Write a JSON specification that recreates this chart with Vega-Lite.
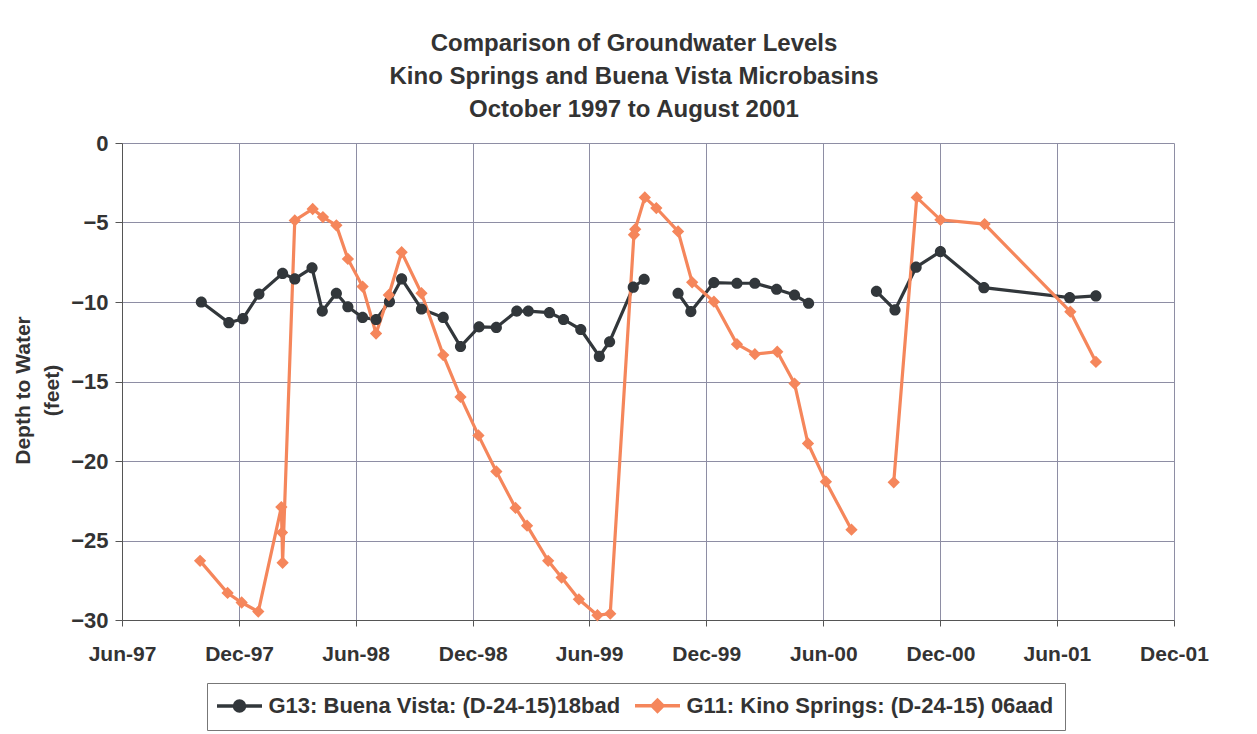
{
  "$schema": "https://vega.github.io/schema/vega-lite/v6.json",
  "width": 1052,
  "height": 477,
  "autosize": "none",
  "padding": {"left": 122, "top": 143, "right": 83, "bottom": 114},
  "background": "white",
  "config": {"view": {"stroke": null}, "font": "Liberation Sans"},
  "title": {
    "text": ["Comparison of Groundwater Levels", "Kino Springs and Buena Vista Microbasins", "October 1997 to August 2001"],
    "font": "Liberation Sans",
    "fontSize": 24,
    "fontWeight": "bold",
    "lineHeight": 33,
    "color": "#333333",
    "anchor": "middle",
    "frame": "group",
    "dx": -14,
    "offset": 10
  },
  "data": {
    "values": [
      {"series": "G13: Buena Vista: (D-24-15)18bad", "date": "1997-10-03T00:00", "depth": -10.0},
      {"series": "G13: Buena Vista: (D-24-15)18bad", "date": "1997-11-15T00:00", "depth": -11.3},
      {"series": "G13: Buena Vista: (D-24-15)18bad", "date": "1997-12-07T00:00", "depth": -11.05},
      {"series": "G13: Buena Vista: (D-24-15)18bad", "date": "1998-01-01T00:00", "depth": -9.5},
      {"series": "G13: Buena Vista: (D-24-15)18bad", "date": "1998-02-07T00:00", "depth": -8.2},
      {"series": "G13: Buena Vista: (D-24-15)18bad", "date": "1998-02-26T00:00", "depth": -8.55},
      {"series": "G13: Buena Vista: (D-24-15)18bad", "date": "1998-03-25T00:00", "depth": -7.85},
      {"series": "G13: Buena Vista: (D-24-15)18bad", "date": "1998-04-10T00:00", "depth": -10.57},
      {"series": "G13: Buena Vista: (D-24-15)18bad", "date": "1998-05-02T00:00", "depth": -9.45},
      {"series": "G13: Buena Vista: (D-24-15)18bad", "date": "1998-05-20T00:00", "depth": -10.3},
      {"series": "G13: Buena Vista: (D-24-15)18bad", "date": "1998-06-12T00:00", "depth": -10.97},
      {"series": "G13: Buena Vista: (D-24-15)18bad", "date": "1998-07-03T00:00", "depth": -11.1},
      {"series": "G13: Buena Vista: (D-24-15)18bad", "date": "1998-07-24T00:00", "depth": -9.98},
      {"series": "G13: Buena Vista: (D-24-15)18bad", "date": "1998-08-12T00:00", "depth": -8.55},
      {"series": "G13: Buena Vista: (D-24-15)18bad", "date": "1998-09-12T00:00", "depth": -10.44},
      {"series": "G13: Buena Vista: (D-24-15)18bad", "date": "1998-10-16T00:00", "depth": -10.97},
      {"series": "G13: Buena Vista: (D-24-15)18bad", "date": "1998-11-12T00:00", "depth": -12.8},
      {"series": "G13: Buena Vista: (D-24-15)18bad", "date": "1998-12-11T00:00", "depth": -11.56},
      {"series": "G13: Buena Vista: (D-24-15)18bad", "date": "1999-01-07T00:00", "depth": -11.6},
      {"series": "G13: Buena Vista: (D-24-15)18bad", "date": "1999-02-08T00:00", "depth": -10.57},
      {"series": "G13: Buena Vista: (D-24-15)18bad", "date": "1999-02-26T00:00", "depth": -10.57},
      {"series": "G13: Buena Vista: (D-24-15)18bad", "date": "1999-03-31T00:00", "depth": -10.67},
      {"series": "G13: Buena Vista: (D-24-15)18bad", "date": "1999-04-22T00:00", "depth": -11.1},
      {"series": "G13: Buena Vista: (D-24-15)18bad", "date": "1999-05-19T00:00", "depth": -11.73},
      {"series": "G13: Buena Vista: (D-24-15)18bad", "date": "1999-06-17T00:00", "depth": -13.42},
      {"series": "G13: Buena Vista: (D-24-15)18bad", "date": "1999-07-03T00:00", "depth": -12.5},
      {"series": "G13: Buena Vista: (D-24-15)18bad", "date": "1999-08-09T00:00", "depth": -9.07},
      {"series": "G13: Buena Vista: (D-24-15)18bad", "date": "1999-08-26T00:00", "depth": -8.57},
      {"series": "G13: Buena Vista: (D-24-15)18bad", "date": "1999-09-20T00:00", "depth": null},
      {"series": "G13: Buena Vista: (D-24-15)18bad", "date": "1999-10-18T00:00", "depth": -9.45},
      {"series": "G13: Buena Vista: (D-24-15)18bad", "date": "1999-11-07T00:00", "depth": -10.6},
      {"series": "G13: Buena Vista: (D-24-15)18bad", "date": "1999-12-13T00:00", "depth": -8.78},
      {"series": "G13: Buena Vista: (D-24-15)18bad", "date": "2000-01-18T00:00", "depth": -8.82},
      {"series": "G13: Buena Vista: (D-24-15)18bad", "date": "2000-02-15T00:00", "depth": -8.82},
      {"series": "G13: Buena Vista: (D-24-15)18bad", "date": "2000-03-20T00:00", "depth": -9.2},
      {"series": "G13: Buena Vista: (D-24-15)18bad", "date": "2000-04-17T00:00", "depth": -9.56},
      {"series": "G13: Buena Vista: (D-24-15)18bad", "date": "2000-05-09T00:00", "depth": -10.08},
      {"series": "G13: Buena Vista: (D-24-15)18bad", "date": "2000-07-01T00:00", "depth": null},
      {"series": "G13: Buena Vista: (D-24-15)18bad", "date": "2000-08-23T00:00", "depth": -9.33},
      {"series": "G13: Buena Vista: (D-24-15)18bad", "date": "2000-09-21T00:00", "depth": -10.5},
      {"series": "G13: Buena Vista: (D-24-15)18bad", "date": "2000-10-24T00:00", "depth": -7.81},
      {"series": "G13: Buena Vista: (D-24-15)18bad", "date": "2000-12-01T00:00", "depth": -6.83},
      {"series": "G13: Buena Vista: (D-24-15)18bad", "date": "2001-02-07T00:00", "depth": -9.1},
      {"series": "G13: Buena Vista: (D-24-15)18bad", "date": "2001-06-21T00:00", "depth": -9.73},
      {"series": "G13: Buena Vista: (D-24-15)18bad", "date": "2001-08-01T00:00", "depth": -9.62},
      {"series": "G11: Kino Springs: (D-24-15) 06aad", "date": "1997-10-01T00:00", "depth": -26.28},
      {"series": "G11: Kino Springs: (D-24-15) 06aad", "date": "1997-11-13T00:00", "depth": -28.3},
      {"series": "G11: Kino Springs: (D-24-15) 06aad", "date": "1997-12-05T00:00", "depth": -28.9},
      {"series": "G11: Kino Springs: (D-24-15) 06aad", "date": "1997-12-31T00:00", "depth": -29.47},
      {"series": "G11: Kino Springs: (D-24-15) 06aad", "date": "1998-02-05T00:00", "depth": -22.9},
      {"series": "G11: Kino Springs: (D-24-15) 06aad", "date": "1998-02-06T00:00", "depth": -24.5},
      {"series": "G11: Kino Springs: (D-24-15) 06aad", "date": "1998-02-07T00:00", "depth": -26.4},
      {"series": "G11: Kino Springs: (D-24-15) 06aad", "date": "1998-02-26T00:00", "depth": -4.87},
      {"series": "G11: Kino Springs: (D-24-15) 06aad", "date": "1998-03-26T00:00", "depth": -4.15},
      {"series": "G11: Kino Springs: (D-24-15) 06aad", "date": "1998-04-11T00:00", "depth": -4.66},
      {"series": "G11: Kino Springs: (D-24-15) 06aad", "date": "1998-05-02T00:00", "depth": -5.18},
      {"series": "G11: Kino Springs: (D-24-15) 06aad", "date": "1998-05-20T00:00", "depth": -7.29},
      {"series": "G11: Kino Springs: (D-24-15) 06aad", "date": "1998-06-12T00:00", "depth": -9.03},
      {"series": "G11: Kino Springs: (D-24-15) 06aad", "date": "1998-07-03T00:00", "depth": -11.98},
      {"series": "G11: Kino Springs: (D-24-15) 06aad", "date": "1998-07-23T00:00", "depth": -9.56},
      {"series": "G11: Kino Springs: (D-24-15) 06aad", "date": "1998-08-12T00:00", "depth": -6.87},
      {"series": "G11: Kino Springs: (D-24-15) 06aad", "date": "1998-09-12T00:00", "depth": -9.45},
      {"series": "G11: Kino Springs: (D-24-15) 06aad", "date": "1998-10-16T00:00", "depth": -13.34},
      {"series": "G11: Kino Springs: (D-24-15) 06aad", "date": "1998-11-12T00:00", "depth": -15.97},
      {"series": "G11: Kino Springs: (D-24-15) 06aad", "date": "1998-12-10T00:00", "depth": -18.39},
      {"series": "G11: Kino Springs: (D-24-15) 06aad", "date": "1999-01-07T00:00", "depth": -20.66},
      {"series": "G11: Kino Springs: (D-24-15) 06aad", "date": "1999-02-06T00:00", "depth": -22.95},
      {"series": "G11: Kino Springs: (D-24-15) 06aad", "date": "1999-02-24T00:00", "depth": -24.07},
      {"series": "G11: Kino Springs: (D-24-15) 06aad", "date": "1999-03-29T00:00", "depth": -26.28},
      {"series": "G11: Kino Springs: (D-24-15) 06aad", "date": "1999-04-19T00:00", "depth": -27.33},
      {"series": "G11: Kino Springs: (D-24-15) 06aad", "date": "1999-05-16T00:00", "depth": -28.7},
      {"series": "G11: Kino Springs: (D-24-15) 06aad", "date": "1999-06-14T00:00", "depth": -29.7},
      {"series": "G11: Kino Springs: (D-24-15) 06aad", "date": "1999-07-04T00:00", "depth": -29.6},
      {"series": "G11: Kino Springs: (D-24-15) 06aad", "date": "1999-08-10T00:00", "depth": -5.77},
      {"series": "G11: Kino Springs: (D-24-15) 06aad", "date": "1999-08-12T00:00", "depth": -5.42},
      {"series": "G11: Kino Springs: (D-24-15) 06aad", "date": "1999-08-27T00:00", "depth": -3.42},
      {"series": "G11: Kino Springs: (D-24-15) 06aad", "date": "1999-09-14T00:00", "depth": -4.09},
      {"series": "G11: Kino Springs: (D-24-15) 06aad", "date": "1999-10-18T00:00", "depth": -5.56},
      {"series": "G11: Kino Springs: (D-24-15) 06aad", "date": "1999-11-09T00:00", "depth": -8.76},
      {"series": "G11: Kino Springs: (D-24-15) 06aad", "date": "1999-12-13T00:00", "depth": -9.98},
      {"series": "G11: Kino Springs: (D-24-15) 06aad", "date": "2000-01-18T00:00", "depth": -12.65},
      {"series": "G11: Kino Springs: (D-24-15) 06aad", "date": "2000-02-15T00:00", "depth": -13.28},
      {"series": "G11: Kino Springs: (D-24-15) 06aad", "date": "2000-03-21T00:00", "depth": -13.13},
      {"series": "G11: Kino Springs: (D-24-15) 06aad", "date": "2000-04-17T00:00", "depth": -15.13},
      {"series": "G11: Kino Springs: (D-24-15) 06aad", "date": "2000-05-08T00:00", "depth": -18.9},
      {"series": "G11: Kino Springs: (D-24-15) 06aad", "date": "2000-06-05T00:00", "depth": -21.3},
      {"series": "G11: Kino Springs: (D-24-15) 06aad", "date": "2000-07-15T00:00", "depth": -24.32},
      {"series": "G11: Kino Springs: (D-24-15) 06aad", "date": "2000-08-20T00:00", "depth": null},
      {"series": "G11: Kino Springs: (D-24-15) 06aad", "date": "2000-09-19T00:00", "depth": -21.34},
      {"series": "G11: Kino Springs: (D-24-15) 06aad", "date": "2000-10-25T00:00", "depth": -3.42},
      {"series": "G11: Kino Springs: (D-24-15) 06aad", "date": "2000-12-01T00:00", "depth": -4.83},
      {"series": "G11: Kino Springs: (D-24-15) 06aad", "date": "2001-02-08T00:00", "depth": -5.1},
      {"series": "G11: Kino Springs: (D-24-15) 06aad", "date": "2001-06-22T00:00", "depth": -10.61},
      {"series": "G11: Kino Springs: (D-24-15) 06aad", "date": "2001-08-01T00:00", "depth": -13.77}
    ]
  },
  "encoding": {
    "x": {
      "field": "date",
      "type": "temporal",
      "title": null,
      "scale": {"domain": [{"year": 1997, "month": 6, "date": 1}, {"year": 2001, "month": 12, "date": 1}]},
      "axis": {
        "values": [
          {"year": 1997, "month": 6, "date": 1}, {"year": 1997, "month": 12, "date": 1},
          {"year": 1998, "month": 6, "date": 1}, {"year": 1998, "month": 12, "date": 1},
          {"year": 1999, "month": 6, "date": 1}, {"year": 1999, "month": 12, "date": 1},
          {"year": 2000, "month": 6, "date": 1}, {"year": 2000, "month": 12, "date": 1},
          {"year": 2001, "month": 6, "date": 1}, {"year": 2001, "month": 12, "date": 1}
        ],
        "format": "%b-%y",
        "labelAngle": 0,
        "labelFlush": false,
        "labelOverlap": false,
        "labelFont": "Liberation Sans",
        "labelFontSize": 21,
        "labelFontWeight": "bold",
        "labelColor": "#333333",
        "labelPadding": 17,
        "tickSize": 6,
        "tickColor": "#555555",
        "domainColor": "#555555",
        "domainWidth": 1,
        "grid": true,
        "gridColor": "#8e8ea4",
        "gridWidth": 1
      }
    },
    "y": {
      "field": "depth",
      "type": "quantitative",
      "scale": {"domain": [-30, 0], "nice": false},
      "axis": {
        "values": [-30, -25, -20, -15, -10, -5, 0],
        "title": ["Depth to Water", "(feet)"],
        "titleFont": "Liberation Sans",
        "titleFontSize": 21,
        "titleFontWeight": "bold",
        "titleColor": "#333333",
        "titleLineHeight": 29,
        "titleX": -99,
        "titleY": 247,
        "titleBaseline": "middle",
        "titleAlign": "center",
        "titleAngle": -90,
        "labelFont": "Liberation Sans",
        "labelFontSize": 22,
        "labelFontWeight": "bold",
        "labelColor": "#333333",
        "labelPadding": 7,
        "tickSize": 7,
        "tickColor": "#555555",
        "domainColor": "#555555",
        "grid": true,
        "gridColor": "#8e8ea4",
        "gridWidth": 1
      }
    },
    "color": {
      "field": "series",
      "type": "nominal",
      "scale": {"domain": ["G13: Buena Vista: (D-24-15)18bad", "G11: Kino Springs: (D-24-15) 06aad"], "range": ["#32373b", "#f5865b"]},
      "legend": {
        "title": null,
        "orient": "none",
        "legendX": 85,
        "legendY": 540,
        "direction": "horizontal",
        "strokeColor": "#777777",
        "fillColor": "white",
        "padding": 11.5,
        "columnPadding": 7,
        "symbolSize": 100,
        "symbolOffset": 10,
        "symbolOpacity": 1,
        "symbolStrokeWidth": 3.5,
        "labelOffset": 18,
        "labelFont": "Liberation Sans",
        "labelFontSize": 22,
        "labelFontWeight": "bold",
        "labelColor": "#333333",
        "labelLimit": 0
      }
    }
  },
  "layer": [
    {
      "mark": {"type": "line", "strokeWidth": 3.2, "invalid": "break-paths-filter-domains"}
    },
    {
      "mark": {"type": "point", "filled": true, "opacity": 1, "size": 125},
      "encoding": {
        "stroke": {
          "field": "series",
          "type": "nominal",
          "scale": {"domain": ["G13: Buena Vista: (D-24-15)18bad", "G11: Kino Springs: (D-24-15) 06aad"], "range": ["#32373b", "#f5865b"]},
          "legend": {"title": null, "orient": "none", "legendX": 85, "legendY": 540, "direction": "horizontal"}
        },
        "strokeWidth": {"value": 0},
        "shape": {
          "field": "series",
          "type": "nominal",
          "scale": {
            "domain": ["G13: Buena Vista: (D-24-15)18bad", "G11: Kino Springs: (D-24-15) 06aad"],
            "range": [
              "M-4.5,0H4.5M-1,0A1,1 0 1,1 1,0A1,1 0 1,1 -1,0Z",
              "M-4.5,0H4.5M-1.1,0L0,-1.1L1.1,0L0,1.1Z"
            ]
          },
          "legend": {"title": null, "orient": "none", "legendX": 85, "legendY": 540, "direction": "horizontal"}
        }
      }
    }
  ]
}
